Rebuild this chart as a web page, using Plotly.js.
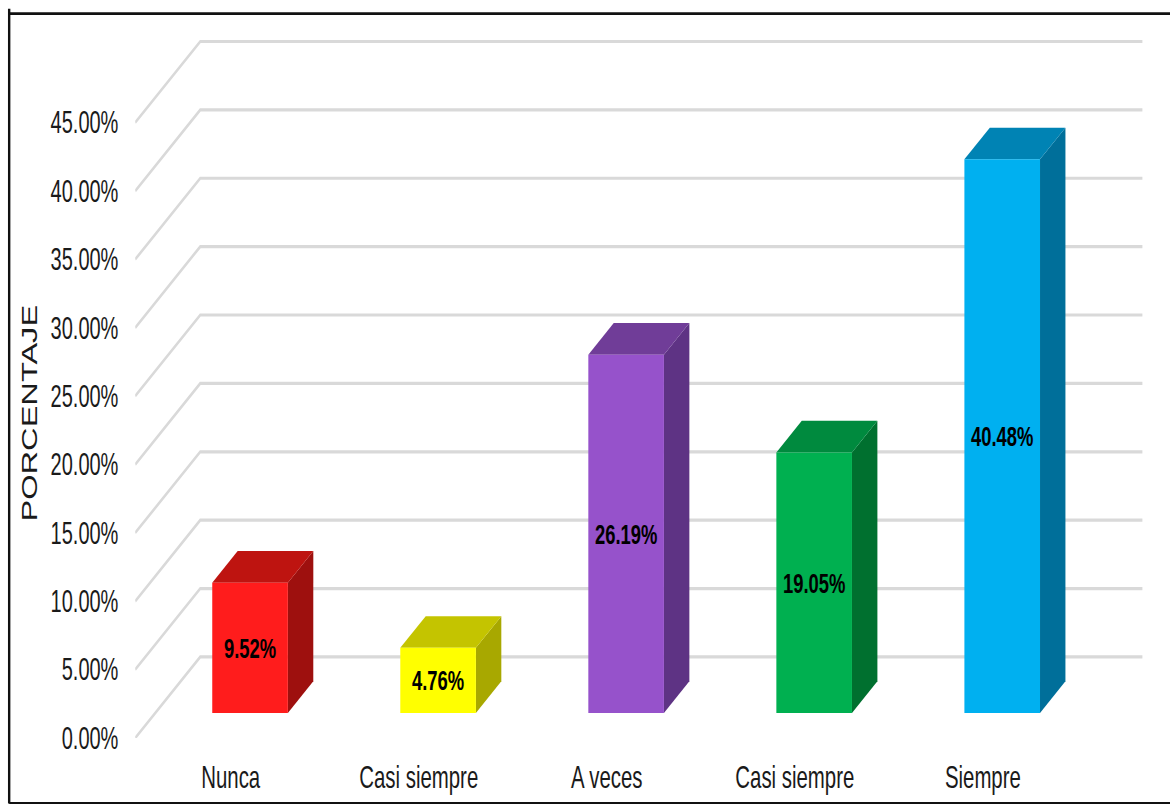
<!DOCTYPE html>
<html>
<head>
<meta charset="utf-8">
<script src="https://cdn.plot.ly/plotly-3.0.1.min.js"></script>
<style>
  html, body { margin: 0; padding: 0; background: #fff; width: 1170px; height: 804px; overflow: hidden; }
  #chart { transform-origin: 0 0; }
</style>
</head>
<body>
<div id="chart"></div>
<script>
// Survey responses, as percentages
const categories = ['Nunca', 'Casi siempre', 'A veces', 'Casi siempre', 'Siempre'];
const percentages = [9.52, 4.76, 26.19, 19.05, 40.48];
const axisTicks = [0, 5, 10, 15, 20, 25, 30, 35, 40, 45];

// Face colours of each bar
const frontColors = ['#ff1c1c', '#ffff00', '#9652cb', '#00b050', '#00b0f0'];
const topColors   = ['#be1410', '#c4c400', '#703d98', '#008a3e', '#0083b4'];
const sideColors  = ['#9e100e', '#a8a800', '#5e3384', '#00702f', '#006f9a'];

// The figure is laid out wider and shorter, then condensed horizontally
// and stretched vertically. All *_PX values are final screen positions.
const SCALE_X = 0.8, SCALE_Y = 1.23;
const WIDTH = 1170 / SCALE_X, HEIGHT = 804 / SCALE_Y;
const LEFT_PX = 135, RIGHT_PX = 1150, FLOOR_PX = 737.5, TOP_PX = 20;

// Scale of the two axes, in screen pixels per unit
const PX_PER_CATEGORY = 188, PX_PER_PERCENT = 13.66;
const FIRST_CATEGORY_PX = 230.5;

// Oblique projection: a point at depth 1 sits on the back wall
const WALL_DX = 65 / PX_PER_CATEGORY;
const WALL_DY = 81 / PX_PER_PERCENT;
const project = (x, depth, y) => [x + depth * WALL_DX, y + depth * WALL_DY];

const xMin = (LEFT_PX - FIRST_CATEGORY_PX) / PX_PER_CATEGORY;
const xMax = (RIGHT_PX - FIRST_CATEGORY_PX) / PX_PER_CATEGORY;
const xWallEnd = (1142 - FIRST_CATEGORY_PX) / PX_PER_CATEGORY;
const yMax = (FLOOR_PX - TOP_PX) / PX_PER_PERCENT;

const BAR_HALF = 37.8 / PX_PER_CATEGORY;
const BAR_SHIFT = -0.75 / PX_PER_CATEGORY;
const DEPTH_FRONT = 0.309, DEPTH_BACK = 0.70;
const LABEL_DROP = 3 / PX_PER_PERCENT;

function polygon(points, color) {
  return {
    type: 'scatter', mode: 'lines', fill: 'toself', fillcolor: color,
    x: points.map(p => p[0]), y: points.map(p => p[1]),
    line: { width: 0, color: color }, hoverinfo: 'skip',
    showlegend: false, cliponaxis: false
  };
}

const traces = [];

// Grid: slanted on the side wall, then horizontal along the back wall
axisTicks.forEach(t => {
  const corner = project(xMin, 1, t);
  traces.push({
    type: 'scatter', mode: 'lines',
    x: [xMin, corner[0], xWallEnd], y: [t, corner[1], corner[1]],
    line: { color: '#d9d9d9', width: 2.6 }, hoverinfo: 'skip',
    showlegend: false, cliponaxis: false
  });
});

// Bars: side and top faces first, front face over them
percentages.forEach((v, i) => {
  const l = i + BAR_SHIFT - BAR_HALF, r = i + BAR_SHIFT + BAR_HALF;
  traces.push(polygon([
    project(r, DEPTH_FRONT, 0), project(r, DEPTH_BACK, 0),
    project(r, DEPTH_BACK, v), project(r, DEPTH_FRONT, v)
  ], sideColors[i]));
  traces.push(polygon([
    project(l, DEPTH_FRONT, v), project(r, DEPTH_FRONT, v),
    project(r, DEPTH_BACK, v), project(l, DEPTH_BACK, v)
  ], topColors[i]));
  traces.push(polygon([
    project(l, DEPTH_FRONT, 0), project(r, DEPTH_FRONT, 0),
    project(r, DEPTH_FRONT, v), project(l, DEPTH_FRONT, v)
  ], frontColors[i]));
});

// Value labels centred on the front faces
const labelPoints = percentages.map((v, i) => project(i + BAR_SHIFT, DEPTH_FRONT, v / 2 - LABEL_DROP));
traces.push({
  type: 'scatter', mode: 'text',
  x: labelPoints.map(p => p[0]), y: labelPoints.map(p => p[1]),
  text: percentages.map(v => v.toFixed(2) + '%'),
  textposition: 'middle center',
  textfont: { family: '"Liberation Sans", sans-serif', size: 23, color: '#000', weight: 700 },
  hoverinfo: 'skip', showlegend: false, cliponaxis: false
});

const AXIS_FONT = { family: '"Liberation Sans", sans-serif', size: 25, color: '#1a1a1a' };
const plotWidthPx = RIGHT_PX - LEFT_PX;
const paperX = px => (px - LEFT_PX) / plotWidthPx;
const paperY = px => (FLOOR_PX - px) / (FLOOR_PX - TOP_PX);
const frameLine = (x0, y0, x1, y1, w) => ({
  type: 'line', xref: 'paper', yref: 'paper',
  x0: paperX(x0), x1: paperX(x1), y0: paperY(y0), y1: paperY(y1),
  line: { color: '#111', width: w }
});

const layout = {
  width: WIDTH, height: HEIGHT,
  margin: {
    l: LEFT_PX / SCALE_X, r: (1170 - RIGHT_PX) / SCALE_X,
    t: TOP_PX / SCALE_Y, b: (804 - FLOOR_PX) / SCALE_Y, pad: 0
  },
  paper_bgcolor: '#fff', plot_bgcolor: '#fff', showlegend: false,
  xaxis: {
    range: [xMin, xMax], showgrid: false, zeroline: false, showline: false,
    tickmode: 'array', tickvals: categories.map((c, i) => i), ticktext: categories,
    ticks: 'outside', ticklen: 9, tickcolor: 'rgba(0,0,0,0)',
    tickangle: 0, tickfont: Object.assign({}, AXIS_FONT, { size: 25.5 })
  },
  yaxis: {
    range: [0, yMax], showgrid: false, zeroline: false, showline: false,
    tickmode: 'array', tickvals: axisTicks,
    ticktext: axisTicks.map(t => t.toFixed(2) + '%'),
    ticks: 'outside', ticklen: 15, tickcolor: 'rgba(0,0,0,0)', tickfont: AXIS_FONT
  },
  // Axis caption, centred on the bar area rather than on the full grid
  annotations: [{
    text: 'PORCENTAJE', xref: 'paper', yref: 'paper',
    x: paperX(30), y: paperY(413.5), xanchor: 'center', yanchor: 'middle',
    textangle: -90, showarrow: false,
    font: { family: '"Liberation Sans", sans-serif', size: 26.5, color: '#1a1a1a' }
  }],
  shapes: [
    frameLine(9, 9, 9, 803, 3),
    frameLine(9, 14, 1170, 14, 2.2),
    frameLine(9, 802.5, 1170, 802.5, 1.8)
  ]
};

const chart = document.getElementById('chart');
chart.style.transform = 'scale(' + SCALE_X + ',' + SCALE_Y + ')';
Plotly.newPlot(chart, traces, layout, { displayModeBar: false, staticPlot: true });
</script>
</body>
</html>
